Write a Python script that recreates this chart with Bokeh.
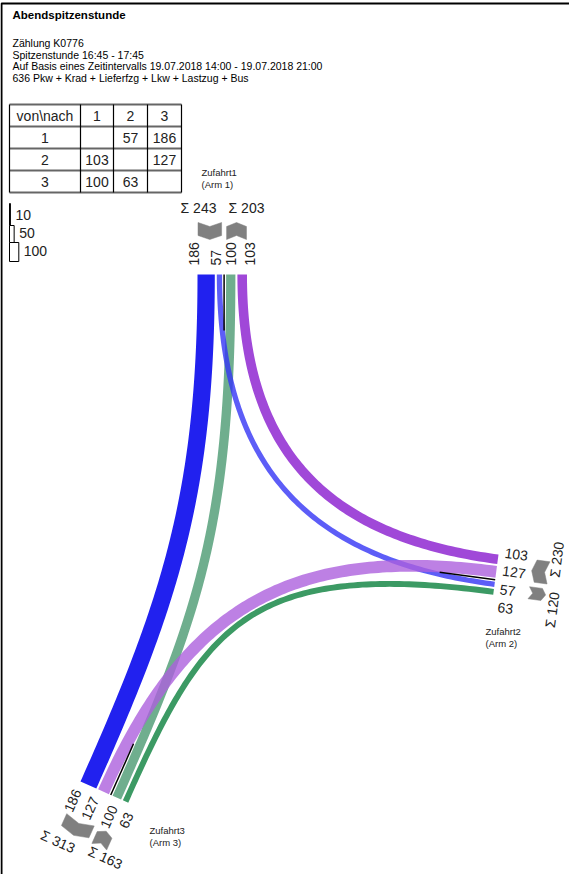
import numpy as np
from bokeh.plotting import figure
from bokeh.models import Range1d
from bokeh.embed import file_html
from bokeh.resources import INLINE
from bokeh.core.properties import value

# ---------------- data ----------------
title = "Abendspitzenstunde"
info_lines = ["Zählung K0776",
              "Spitzenstunde 16:45 - 17:45",
              "Auf Basis eines Zeitintervalls 19.07.2018 14:00 - 19.07.2018 21:00",
              "636 Pkw + Krad + Lieferfzg + Lkw + Lastzug + Bus"]
arms = ["1", "2", "3"]
arm_names = ["Zufahrt1", "Zufahrt2", "Zufahrt3"]
arm_subs = ["(Arm 1)", "(Arm 2)", "(Arm 3)"]
flow_from = ["1", "1", "2", "2", "3", "3"]
flow_to = ["2", "3", "1", "3", "1", "2"]
flow_veh = [57, 186, 103, 127, 100, 63]
legend_veh = [10, 50, 100]

veh = {(a, b): v for a, b, v in zip(flow_from, flow_to, flow_veh)}

# ---------------- layout ----------------
W, H = 569, 874
FONT = "Liberation Sans"
S = 0.093      # px per vehicle
G = 2.0        # gap between lanes
CG = 4.0       # gap between directions (divider)

def unit(deg):
    r = np.deg2rad(deg)
    return np.array([np.cos(r), -np.sin(r)])

frame = {
    "1": dict(o=np.array([205.0, 282.0]), d=unit(90), n=unit(0)),
    "2": dict(o=np.array([506.0, 562.0]), d=unit(-7.5), n=unit(-97.5)),
    "3": dict(o=np.array([88.0, 789.0]), d=unit(-114), n=unit(-24)),
}
lane_groups = {
    "1": [[("1", "3"), ("1", "2")], [("3", "1"), ("2", "1")]],
    "2": [[("2", "1"), ("2", "3")], [("1", "2"), ("3", "2")]],
    "3": [[("1", "3"), ("2", "3")], [("3", "1"), ("3", "2")]],
}
flow_style = {
    ("1", "3"): ("#2121ef", 1.0),
    ("1", "2"): ("#3535f5", 0.8),
    ("2", "1"): ("#a048d8", 1.0),
    ("2", "3"): ("#ac60dd", 0.8),
    ("3", "2"): ("#3c9a64", 1.0),
    ("3", "1"): ("#4b9a72", 0.8),
}
handles = {
    ("1", "3"): (220, 200), ("1", "2"): (200, 180), ("2", "1"): (180, 170),
    ("2", "3"): (210, 200), ("3", "1"): (200, 250), ("3", "2"): (190, 250),
}
draw_order = [("1", "3"), ("2", "1"), ("3", "2"), ("3", "1"), ("1", "2"), ("2", "3")]

# lane offsets
lane_off, group_ext, divider = {}, {}, {}
for arm, groups in lane_groups.items():
    pos, exts = 0.0, []
    for gi, g in enumerate(groups):
        if gi == 1:
            divider[arm] = pos + CG / 2
            pos += CG
        start = pos
        for li, f in enumerate(g):
            if li > 0:
                pos += G
            w = veh[f] * S
            lane_off[(arm, f)] = pos + w / 2
            pos += w
        exts.append((start, pos))
    group_ext[arm] = exts

def pt(arm, nn, dd):
    fr = frame[arm]
    return fr["o"] + fr["n"] * nn + fr["d"] * dd

p = figure(width=W, height=H, x_range=Range1d(8, 8 + W), y_range=Range1d(8 + H, 8),
           output_backend="svg", toolbar_location=None, min_border=0,
           x_axis_type=None, y_axis_type=None)
p.grid.visible = False
p.outline_line_color = None
p.background_fill_color = "white"

# page border
p.line([9, 9, 700], [1000, 11, 11], line_color="black", line_width=2)

# texts at top
p.text([20], [22], text=[title], text_font=value(FONT), text_font_style="bold",
       text_font_size="11.5px", text_baseline="middle", text_color="black")
p.text([20] * 4, [50, 62, 73, 85], text=info_lines, text_font=value(FONT),
       text_font_size="10.5px", text_baseline="middle", text_color="black")

# ---------------- table ----------------
col_x = [17, 88, 121, 155, 189]
row_y = [112, 134, 156, 178, 200]
p.segment(x0=[col_x[0]] * 5, x1=[col_x[-1]] * 5, y0=row_y, y1=row_y,
          line_color="#666666", line_width=2)
p.segment(x0=col_x, x1=col_x, y0=[row_y[0]] * 5, y1=[row_y[-1]] * 5,
          line_color="black", line_width=1.2)
cx = [(col_x[i] + col_x[i + 1]) / 2 for i in range(4)]
cy = [(row_y[i] + row_y[i + 1]) / 2 for i in range(4)]
tt, tx, ty = ["von\\nach"] + arms, [cx[0]] + cx[1:], [cy[0]] * 4
for r, a in enumerate(arms):
    tt.append(a); tx.append(cx[0]); ty.append(cy[r + 1])
    for c, b in enumerate(arms):
        if (a, b) in veh:
            tt.append(str(veh[(a, b)])); tx.append(cx[c + 1]); ty.append(cy[r + 1])
p.text(tx, ty, text=tt, text_font=value(FONT), text_font_size="14px",
       text_align="center", text_baseline="middle", text_color="#222222")

# ---------------- legend ----------------
leg_top = [211, 233, 250]
leg_h = [22, 17, 19]
lw = [v * S for v in legend_veh]
p.quad(left=[17] * 3, right=[17 + w for w in lw], top=leg_top,
       bottom=[t + h for t, h in zip(leg_top, leg_h)],
       fill_color="white", line_color="black", line_width=1)
p.text([17 + w + 5 for w in lw], [222, 240, 258], text=[str(v) for v in legend_veh],
       text_font=value(FONT), text_font_size="14px", text_baseline="middle",
       text_color="#222222")

# ---------------- flows ----------------
t = np.linspace(0, 1, 120)[:, None]
for f in draw_order:
    a, b = f
    ha, hb = handles[f]
    P0 = pt(a, lane_off[(a, f)], 0)
    P3 = pt(b, lane_off[(b, f)], 0)
    P1 = P0 - frame[a]["d"] * ha
    P2 = P3 - frame[b]["d"] * hb
    B = ((1 - t) ** 3) * P0 + 3 * ((1 - t) ** 2) * t * P1 + 3 * (1 - t) * t ** 2 * P2 + t ** 3 * P3
    p.line(list(B[:, 0]), list(B[:, 1]), line_color=flow_style[f][0],
           line_alpha=flow_style[f][1], line_width=veh[f] * S,
           line_cap="butt", line_join="round")

# dividers
for arm in arms:
    A = pt(arm, divider[arm], 0)
    Bp = pt(arm, divider[arm], -56)
    p.line([A[0], Bp[0]], [A[1], Bp[1]], line_color="black", line_width=1.5)

# chevrons
pxs, pys = [], []
for arm in arms:
    for gi, (na, nb) in enumerate(group_ext[arm]):
        na, nb = na + 0.5, nb - 0.5
        m = (na + nb) / 2
        inward = lane_groups[arm][gi][0][0] == arm
        if inward:
            loc = [(na, 52), (m, 48), (nb, 52), (nb, 39), (m, 35), (na, 39)]
        else:
            loc = [(na, 48), (m, 52), (nb, 48), (nb, 35), (m, 39), (na, 35)]
        pts = [pt(arm, q[0], q[1]) for q in loc]
        pxs.append([q[0] for q in pts]); pys.append([q[1] for q in pts])
p.patches(pxs, pys, fill_color="#808080", line_color="#808080", line_width=0.5)

# number labels
num_n = {"1": [-4, 18, 33, 52], "2": [-2.6, 15.5, 34.2, 52.3], "3": [0.5, 19.6, 40.2, 57.5]}
num_d = {"1": 9, "2": 6, "3": 9}
num_ang = {"1": 90, "2": -7.5, "3": 66}
num_align = {"1": "left", "2": "left", "3": "right"}
for arm in arms:
    lanes = lane_groups[arm][0] + lane_groups[arm][1]
    P = [pt(arm, nn, num_d[arm]) for nn in num_n[arm]]
    p.text([q[0] for q in P], [q[1] for q in P], text=[str(veh[f]) for f in lanes],
           angle=num_ang[arm], angle_units="deg", text_align=num_align[arm],
           text_baseline="middle", text_font=value(FONT), text_font_size="14px",
           text_color="#222222")

# sum labels
sum_pos = {"1": [(1, 67), (49, 67)], "2": [(-2.6, 58.5), (47.8, 60.5)], "3": [(3.8, 64), (53.7, 59.5)]}
sum_ang = {"1": 0, "2": 82.5, "3": -24}
for arm in arms:
    P = [pt(arm, q[0], q[1]) for q in sum_pos[arm]]
    txt = ["Σ " + str(sum(veh[f] for f in g)) for g in lane_groups[arm]]
    p.text([q[0] for q in P], [q[1] for q in P], text=txt, angle=sum_ang[arm],
           angle_units="deg", text_align="center", text_baseline="middle",
           text_font=value(FONT), text_font_size="14px", text_color="#222222")

# arm names
name_xy = [(209, 180), (493, 639), (157, 838)]
for (x, y), nm, sb in zip(name_xy, arm_names, arm_subs):
    p.text([x, x], [y, y + 12], text=[nm, sb], text_font=value(FONT),
           text_font_size="9.5px", text_baseline="middle", text_color="#222222")

open("out.html", "w").write(file_html(p, INLINE))
